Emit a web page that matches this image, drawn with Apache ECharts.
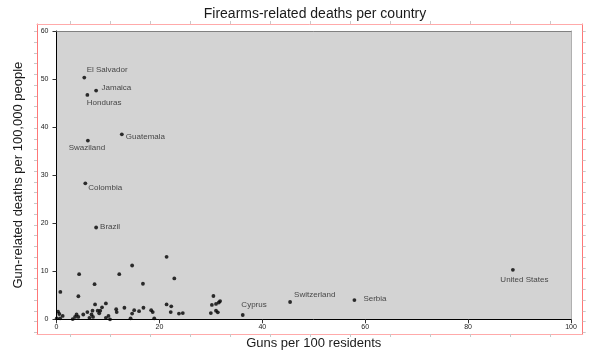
<!DOCTYPE html>
<html>
<head>
<meta charset="utf-8">
<script src="https://cdn.jsdelivr.net/npm/echarts@6/dist/echarts.min.js"></script>
<style>html,body{margin:0;padding:0;background:#fff}#c{width:600px;height:360px}</style>
</head>
<body>
<div id="c"></div>
<script>
// ---- data ----
const labeledNames  = ['El Salvador','Jamaica','Honduras','Guatemala','Swaziland','Colombia','Brazil','United States','Serbia','Switzerland','Cyprus'];
const labeledGuns   = [5.4, 7.7, 6.0, 12.7, 6.1, 5.6, 7.7, 88.7, 57.9, 45.4, 36.2];
const labeledDeaths = [50.3, 47.6, 46.7, 38.5, 37.2, 28.3, 19.1, 10.3, 4.0, 3.6, 0.9];

const otherGuns   = [4.4, 0.75, 7.4, 4.25, 12.2, 0.3, 0.55, 0.05, 0.7, 1.2, 3.15, 3.6, 3.9, 4.25, 5.2, 6.0, 6.4, 6.8, 7.0, 7.1, 7.5, 8.0, 8.3, 8.5, 8.85, 9.6, 9.6, 10.1, 10.4, 11.6, 11.7,
                     21.4, 14.7, 16.8, 22.9, 13.2, 14.4, 14.7, 15.1, 16.05, 16.9, 18.4, 18.7, 19.0, 21.4, 22.3, 22.2, 23.8, 24.55,
                     30.5, 30.2, 31.0, 31.55, 31.8, 30.0, 31.0, 31.35];
const otherDeaths = [9.4, 5.7, 7.3, 4.8, 9.4, 1.6, 1.1, 0.2, 0.2, 0.7, 0.05, 0.5, 1.0, 0.5, 1.0, 1.5, 0.3, 1.0, 1.8, 0.5, 3.1, 1.8, 1.25, 1.8, 2.5, 3.3, 0.3, 0.7, 0.0, 2.1, 1.5,
                     13.0, 11.2, 7.4, 8.5, 2.4, 0.2, 1.2, 1.9, 1.7, 2.4, 1.9, 1.5, 0.2, 3.1, 2.7, 1.5, 1.2, 1.3,
                     4.85, 3.0, 3.2, 3.5, 3.8, 1.3, 1.8, 1.45];

const xTickInterval = 20, xMin = 0, xMax = 100;
const yTickInterval = 10, yMin = 0, yMax = 60;

// ---- label placement (style) ----
const labelPlace = {
  'El Salvador':   {dx: 2.4,  dy: -7.7, align: 'left'},
  'Jamaica':       {dx: 5.4,  dy: -2.3, align: 'left'},
  'Honduras':      {dx: -0.6, dy: 8,    align: 'left'},
  'Guatemala':     {dx: 4,    dy: 2.3,  align: 'left'},
  'Swaziland':     {dx: -1,   dy: 7.3,  align: 'center'},
  'Colombia':      {dx: 3,    dy: 4,    align: 'left'},
  'Brazil':        {dx: 4,    dy: -1,   align: 'left'},
  'United States': {dx: 11.5, dy: 10.3, align: 'center'},
  'Serbia':        {dx: 9,    dy: -1.3, align: 'left'},
  'Switzerland':   {dx: 4,    dy: -7,   align: 'left'},
  'Cyprus':        {dx: -1.4, dy: -10.3,align: 'left'}
};
const SYM = 3.8;
const FONT = '"Liberation Sans", Arial, sans-serif';

const labeledData = labeledNames.map((n, i) => {
  const p = labelPlace[n];
  return {
    name: n,
    value: [labeledGuns[i], labeledDeaths[i]],
    label: {show: true, formatter: n, position: [SYM/2 + p.dx, SYM/2 + p.dy], align: p.align, verticalAlign: 'middle'}
  };
});
const otherData = otherGuns.map((g, i) => [g, otherDeaths[i]]);

// decorative frame ticks
const frameW = 545.7, frameH = 310;
const frameXTicks = []; for (let v = 33; v < frameW; v += 40) frameXTicks.push(v);
const frameYTicks = []; for (let v = 1.7; v < frameH; v += 10.75) frameYTicks.push(+v.toFixed(2));

const chart = echarts.init(document.getElementById('c'), null, {renderer: 'canvas'});
const frameAxisCommon = {
  type: 'value', gridIndex: 1, min: 0, silent: true,
  axisLabel: {show: false}, splitLine: {show: false}
};
chart.setOption({
  animation: false,
  textStyle: {fontFamily: FONT},
  title: {
    text: 'Firearms-related deaths per country',
    left: 310, top: 2, textAlign: 'center',
    textStyle: {fontFamily: FONT, fontSize: 14, fontWeight: 'normal', color: '#1a1a1a'}
  },
  grid: [
    {left: 56.5, right: 29, top: 31, bottom: 40.7, show: true, backgroundColor: '#d3d3d3', borderWidth: 0},
    {left: 37, top: 24, width: frameW, height: frameH, show: false}
  ],
  xAxis: [
    {
      type: 'value', gridIndex: 0, min: xMin, max: xMax, interval: xTickInterval,
      name: 'Guns per 100 residents', nameLocation: 'middle', nameGap: 18,
      nameTextStyle: {fontFamily: FONT, fontSize: 13, color: '#1a1a1a'},
      axisLine: {show: true, onZero: false, lineStyle: {color: '#000', width: 1}},
      axisTick: {show: true, length: 4, lineStyle: {color: '#333'}},
      axisLabel: {fontSize: 7, color: '#222', margin: 4, fontFamily: FONT},
      splitLine: {show: false}
    },
    {
      type: 'value', gridIndex: 0, position: 'top', min: xMin, max: xMax,
      axisLine: {show: true, onZero: false, lineStyle: {color: '#808080', width: 1}},
      axisTick: {show: false}, axisLabel: {show: false}, splitLine: {show: false}
    },
    Object.assign({}, frameAxisCommon, {max: frameW, position: 'top',
      axisLine: {show: true, onZero: false, lineStyle: {color: '#ffaaaa', width: 1}},
      axisTick: {show: true, customValues: frameXTicks, length: 3, lineStyle: {color: '#c8c8c8'}}}),
    Object.assign({}, frameAxisCommon, {max: frameW, position: 'bottom',
      axisLine: {show: true, onZero: false, lineStyle: {color: '#ffaaaa', width: 1}},
      axisTick: {show: true, customValues: frameXTicks, length: 3, lineStyle: {color: '#c8c8c8'}}})
  ],
  yAxis: [
    {
      type: 'value', gridIndex: 0, min: yMin, max: yMax, interval: yTickInterval,
      name: 'Gun-related deaths per 100,000 people', nameLocation: 'middle', nameGap: 32,
      nameTextStyle: {fontFamily: FONT, fontSize: 13, color: '#1a1a1a'},
      axisLine: {show: true, onZero: false, lineStyle: {color: '#000', width: 1}},
      axisTick: {show: true, length: 4, lineStyle: {color: '#333'}},
      axisLabel: {fontSize: 7, color: '#222', margin: 8, fontFamily: FONT},
      splitLine: {show: false}
    },
    {
      type: 'value', gridIndex: 0, position: 'right', min: yMin, max: yMax,
      axisLine: {show: true, onZero: false, lineStyle: {color: '#b0b0b0', width: 1}},
      axisTick: {show: false}, axisLabel: {show: false}, splitLine: {show: false}
    },
    Object.assign({}, frameAxisCommon, {max: frameH, position: 'left',
      axisLine: {show: true, onZero: false, lineStyle: {color: '#ff7777', width: 1}},
      axisTick: {show: true, customValues: frameYTicks, length: 3, lineStyle: {color: '#c8c8c8'}}}),
    Object.assign({}, frameAxisCommon, {max: frameH, position: 'right',
      axisLine: {show: true, onZero: false, lineStyle: {color: '#ff7777', width: 1}},
      axisTick: {show: true, customValues: frameYTicks, length: 3, lineStyle: {color: '#c8c8c8'}}})
  ],
  series: [
    {
      type: 'scatter', xAxisIndex: 0, yAxisIndex: 0, symbolSize: SYM,
      itemStyle: {color: '#000'}, data: otherData, silent: true
    },
    {
      type: 'scatter', xAxisIndex: 0, yAxisIndex: 0, symbolSize: SYM,
      itemStyle: {color: '#000'}, data: labeledData, silent: true,
      label: {fontSize: 8, color: '#222', fontFamily: FONT},
      labelLayout: {hideOverlap: false}
    }
  ]
});
</script>
</body>
</html>
